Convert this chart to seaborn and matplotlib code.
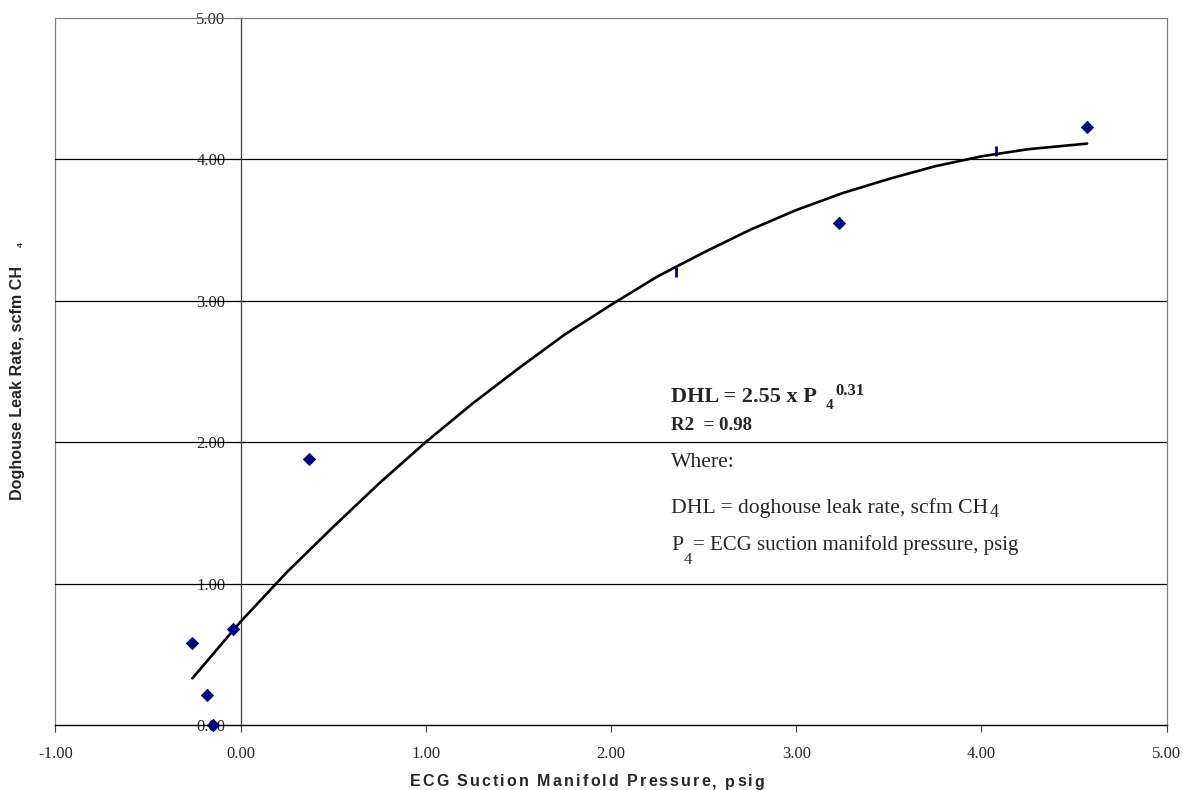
import matplotlib
matplotlib.use("Agg")
import matplotlib.pyplot as plt
import seaborn as sns
import pandas as pd

# measured points (diamonds) and the two points drawn as dashes
pressure = [-0.26, -0.18, -0.15, -0.04, 0.37, 3.23, 4.57]
leak_rate = [0.58, 0.21, 0.00, 0.68, 1.88, 3.55, 4.23]
dash_pressure = [2.35, 4.08]
dash_leak_rate = [3.20, 4.06]

# trend line
fit_pressure = [-0.26, 0.00, 0.25, 0.50, 0.75, 1.00, 1.25, 1.50, 1.75, 2.00,
                2.25, 2.50, 2.75, 3.00, 3.25, 3.50, 3.75, 4.00, 4.25, 4.57]
fit_leak_rate = [0.33, 0.73, 1.08, 1.40, 1.71, 2.00, 2.27, 2.52, 2.76, 2.97,
                 3.17, 3.34, 3.50, 3.64, 3.76, 3.86, 3.95, 4.02, 4.07, 4.11]

x_ticks = [-1, 0, 1, 2, 3, 4, 5]
y_ticks = [0, 1, 2, 3, 4, 5]

W, H = 1183, 790

sns.set_style("white")
plt.rcParams['font.family'] = ['Liberation Serif', 'DejaVu Serif']

fig = plt.figure(figsize=(W / 100, H / 100), dpi=100)
ax = fig.add_axes([55.3 / W, 1 - 725 / H, (1166.7 - 55.3) / W, (725 - 17.7) / H])

pts = pd.DataFrame({'p': pressure, 'r': leak_rate})
dash = pd.DataFrame({'p': dash_pressure, 'r': dash_leak_rate})
fit = pd.DataFrame({'p': fit_pressure, 'r': fit_leak_rate})

for yv in y_ticks[1:-1]:
    ax.axhline(yv, color='black', lw=0.9, zorder=1)

sns.lineplot(data=fit, x='p', y='r', ax=ax, color='black', lw=1.9,
             sort=False, zorder=3)
sns.scatterplot(data=pts, x='p', y='r', ax=ax, marker='D', s=40,
                color='#000080', edgecolor='#000080', zorder=4, clip_on=False)
sns.scatterplot(data=dash, x='p', y='r', ax=ax, marker='|', s=45,
                color='#000080', linewidth=2, zorder=4)

ax.set_xlim(-1, 5)
ax.set_ylim(0, 5)
ax.set_xticks(x_ticks)
ax.set_yticks(y_ticks)
ax.set_xticklabels([f"{v:.2f}" for v in x_ticks])
ax.set_yticklabels([f"{v:.2f}" for v in y_ticks])
ax.set_xlabel('')
ax.set_ylabel('')

# frame: grey box, black x-axis, y-axis moved to x = 0
for s in ['top', 'right']:
    ax.spines[s].set_color('#808080')
    ax.spines[s].set_linewidth(0.9)
ax.spines['bottom'].set_color('black')
ax.spines['bottom'].set_linewidth(1.0)
ax.spines['left'].set_position(('data', 0))
ax.spines['left'].set_color('#404040')
ax.spines['left'].set_linewidth(0.9)
ax.axvline(-1, color='#808080', lw=0.9, clip_on=False, zorder=0)

ax.tick_params(axis='x', direction='out', length=5, width=0.8, color='#404040',
               labelsize=12, pad=10, bottom=True)
ax.tick_params(axis='y', direction='out', length=5, width=0.8, color='#404040',
               labelsize=12, pad=6, left=True)

fig.canvas.draw()
r = fig.canvas.get_renderer()


def after(t):
    return t.get_window_extent(renderer=r).x1 / W


def spaced_text(cx, y, s, total, **kw):
    # lay out letter by letter so the label gets the wide spacing of the original
    texts = [fig.text(0, 1 - y / H, ch, va='center', **kw) for ch in s]
    widths = [t.get_window_extent(renderer=r).width for t in texts]
    gap = (total - sum(widths)) / (len(s) - 1)
    x = cx - total / 2
    for t, w in zip(texts, widths):
        t.set_x(x / W)
        x += w + gap


# axis titles
spaced_text(587, 782, 'ECG Suction Manifold Pressure, psig', 355,
            family='Liberation Sans', weight='bold', fontsize=11.5)
fig.text(17.5 / W, 1 - 383 / H, 'Doghouse Leak Rate, scfm CH',
         family='Liberation Sans', weight='bold', fontsize=11.6,
         rotation=90, ha='center', va='center')
fig.text(21.5 / W, 1 - 244.5 / H, '4', family='Liberation Sans',
         weight='bold', fontsize=6, rotation=90, ha='center', va='center')

# equation box
fig.text(671 / W, 1 - 402 / H, 'DHL = 2.55 x P', weight='bold',
         fontsize=16, va='baseline')
fig.text(826 / W, 1 - 409 / H, '4', weight='bold', fontsize=11, va='baseline')
fig.text(835 / W, 1 - 395 / H, '0.31', weight='bold', fontsize=12,
         va='baseline')
fig.text(671 / W, 1 - 430 / H, 'R2  = 0.98', weight='bold', fontsize=13.6,
         va='baseline')
fig.text(671 / W, 1 - 467 / H, 'Where:', fontsize=15.6, va='baseline')
t3 = fig.text(671 / W, 1 - 513 / H, 'DHL = doghouse leak rate, scfm CH',
              fontsize=15.6, va='baseline')
fig.text(after(t3) + 1 / W, 1 - 517 / H, '4', fontsize=13, va='baseline')
t4 = fig.text(671 / W, 1 - 550 / H, 'P', fontsize=15.6, va='baseline')
fig.text(after(t4) + 0.5 / W, 1 - 564 / H, '4', fontsize=12, va='baseline')
fig.text(693 / W, 1 - 550 / H, '= ECG suction manifold pressure, psig',
         fontsize=15, va='baseline')

fig.savefig('out.png', dpi=100)
